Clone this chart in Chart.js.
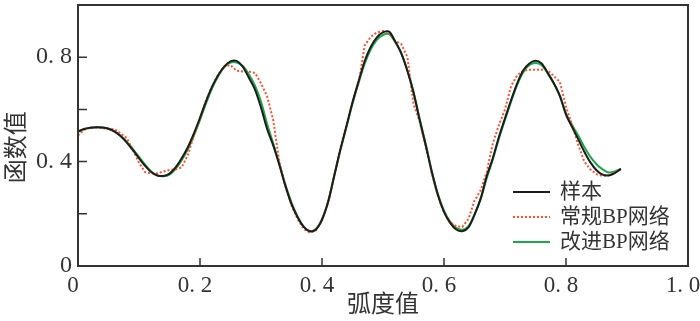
<!DOCTYPE html>
<html>
<head>
<meta charset="utf-8">
<script src="https://cdn.jsdelivr.net/npm/chart.js@4.4.0/dist/chart.umd.min.js"></script>
<style>
  html, body { margin: 0; padding: 0; background: #fff; }
</style>
</head>
<body>
<canvas id="grafico" width="700" height="321"></canvas>
<script>
// 弧度值 (x)
const xs = [0.00,0.01,0.02,0.03,0.04,0.05,0.06,0.07,0.08,0.09,
            0.10,0.11,0.12,0.13,0.14,0.15,0.16,0.17,0.18,0.19,
            0.20,0.21,0.22,0.23,0.24,0.25,0.26,0.27,0.28,0.29,
            0.30,0.31,0.32,0.33,0.34,0.35,0.36,0.37,0.38,0.39,
            0.40,0.41,0.42,0.43,0.44,0.45,0.46,0.47,0.48,0.49,
            0.50,0.51,0.52,0.53,0.54,0.55,0.56,0.57,0.58,0.59,
            0.60,0.61,0.62,0.63,0.64,0.65,0.66,0.67,0.68,0.69,
            0.70,0.71,0.72,0.73,0.74,0.75,0.76,0.77,0.78,0.79,
            0.80,0.81,0.82,0.83,0.84,0.85,0.86,0.87,0.88,0.89];

// 样本
const sample = [0.515,0.525,0.530,0.532,0.531,0.526,0.515,0.497,0.473,0.444,
                0.413,0.384,0.360,0.347,0.345,0.354,0.378,0.413,0.455,0.508,
                0.568,0.632,0.688,0.732,0.765,0.784,0.786,0.764,0.722,0.677,
                0.607,0.525,0.462,0.388,0.307,0.237,0.187,0.150,0.133,0.140,
                0.177,0.245,0.345,0.445,0.535,0.627,0.708,0.785,0.840,0.876,
                0.895,0.898,0.860,0.815,0.747,0.665,0.560,0.463,0.360,0.272,
                0.207,0.165,0.140,0.133,0.148,0.196,0.258,0.344,0.413,0.494,
                0.566,0.636,0.700,0.750,0.776,0.786,0.776,0.740,0.700,0.651,
                0.580,0.532,0.486,0.438,0.397,0.367,0.350,0.347,0.356,0.372];

// 常规BP网络
const bpPlain = [0.500,0.522,0.530,0.530,0.528,0.526,0.524,0.508,0.490,0.445,
                 0.395,0.360,0.354,0.355,0.362,0.368,0.370,0.378,0.425,0.500,
                 0.565,0.635,0.690,0.735,0.765,0.770,0.748,0.745,0.745,0.740,
                 0.700,0.650,0.560,0.400,0.305,0.232,0.180,0.142,0.128,0.136,
                 0.175,0.243,0.345,0.450,0.540,0.630,0.700,0.845,0.878,0.895,
                 0.900,0.895,0.862,0.850,0.800,0.620,0.555,0.460,0.355,0.268,
                 0.205,0.168,0.152,0.150,0.180,0.250,0.290,0.360,0.470,0.540,
                 0.600,0.690,0.730,0.748,0.752,0.752,0.752,0.750,0.728,0.705,
                 0.610,0.540,0.465,0.400,0.370,0.352,0.345,0.348,0.358,0.370];

// 改进BP网络
const bpImproved = [0.515,0.525,0.530,0.532,0.531,0.526,0.516,0.499,0.476,0.448,
                    0.418,0.388,0.362,0.347,0.344,0.350,0.372,0.405,0.447,0.500,
                    0.560,0.624,0.682,0.728,0.762,0.779,0.780,0.766,0.735,0.692,
                    0.630,0.545,0.470,0.392,0.312,0.243,0.190,0.152,0.134,0.142,
                    0.180,0.248,0.345,0.442,0.532,0.622,0.702,0.775,0.830,0.866,
                    0.885,0.888,0.858,0.815,0.750,0.668,0.565,0.468,0.364,0.276,
                    0.212,0.170,0.146,0.139,0.152,0.198,0.255,0.336,0.408,0.488,
                    0.560,0.630,0.694,0.742,0.770,0.778,0.770,0.738,0.700,0.652,
                    0.585,0.540,0.500,0.456,0.418,0.390,0.370,0.358,0.362,0.372];

const seriesNames = ["样本", "常规BP网络", "改进BP网络"];
const xTickValues = [0, 0.2, 0.4, 0.6, 0.8, 1.0];
const yTickValues = [0, 0.2, 0.4, 0.6, 0.8];
const yLabelled = [0, 0.4, 0.8];
const xTitle = "弧度值";
const yTitle = "函数值";

const INK = "#333333";
const FONT = '"Liberation Serif", "Noto Sans CJK SC", serif';

const toPoints = arr => arr.map((v, i) => ({ x: xs[i], y: v }));

function fmt(v) {
    if (Math.abs(v) < 1e-9) return "0";
    return v.toFixed(1).replace(".", ". ");
}

function noPad(s) {
    s.paddingLeft = 0; s.paddingRight = 0; s.paddingTop = 0; s.paddingBottom = 0;
}

// marco, ticks hacia dentro, títulos y leyenda
const decor = {
    id: "decor",
    afterDraw(chart) {
        const { ctx, chartArea: a, scales: { x, y } } = chart;
        ctx.save();
        ctx.strokeStyle = INK;
        ctx.lineWidth = 2;
        ctx.strokeRect(a.left, a.top, a.right - a.left, a.bottom - a.top);

        ctx.lineWidth = 1.5;
        ctx.beginPath();
        yTickValues.forEach(v => {
            if (v === 0) return;
            const p = y.getPixelForValue(v);
            ctx.moveTo(a.left, p);
            ctx.lineTo(a.left + 9, p);
        });
        xTickValues.forEach(v => {
            if (v === 0 || v === 1) return;
            const p = x.getPixelForValue(v);
            ctx.moveTo(p, a.bottom);
            ctx.lineTo(p, a.bottom - 8);
        });
        ctx.stroke();

        // títulos de ejes
        ctx.fillStyle = INK;
        ctx.font = '24px "Noto Sans CJK SC"';
        ctx.textAlign = "center";
        ctx.textBaseline = "middle";
        ctx.fillText(xTitle, (a.left + a.right) / 2, 303);
        ctx.save();
        ctx.translate(15, a.top + (a.bottom - a.top) * 0.545);
        ctx.rotate(-Math.PI / 2);
        ctx.fillText(yTitle, 0, 0);
        ctx.restore();

        // leyenda
        ctx.textAlign = "left";
        ctx.font = "21px " + FONT;
        chart.data.datasets.forEach((ds, i) => {
            const ly = 192 + i * 25;
            ctx.beginPath();
            ctx.strokeStyle = ds.borderColor;
            ctx.lineWidth = ds.borderWidth;
            ctx.setLineDash(ds.borderDash || []);
            ctx.moveTo(513, ly);
            ctx.lineTo(550, ly);
            ctx.stroke();
            ctx.setLineDash([]);
            ctx.fillStyle = INK;
            ctx.fillText(ds.label, 560, ly);
        });
        ctx.restore();
    }
};

const ctx = document.getElementById("grafico").getContext("2d");
new Chart(ctx, {
    type: "line",
    data: {
        datasets: [
            { label: seriesNames[0], data: toPoints(sample), borderColor: "#1c1c1c",
              borderWidth: 2, pointRadius: 0, tension: 0.3 },
            { label: seriesNames[1], data: toPoints(bpPlain), borderColor: "#ff4f2e",
              borderWidth: 2, borderDash: [2, 2], pointRadius: 0, tension: 0 },
            { label: seriesNames[2], data: toPoints(bpImproved), borderColor: "#1fa84a",
              borderWidth: 2, pointRadius: 0, tension: 0.3 }
        ]
    },
    options: {
        responsive: false,
        animation: false,
        layout: { padding: { top: 5, right: 12, left: 0, bottom: 0 } },
        plugins: { legend: { display: false }, tooltip: { enabled: false } },
        scales: {
            x: {
                type: "linear", min: 0, max: 1,
                afterFit: s => { s.height = 55; noPad(s); },
                afterBuildTicks: s => { s.ticks = xTickValues.map(v => ({ value: v })); },
                grid: { display: false, drawTicks: false },
                border: { display: false },
                ticks: { callback: v => fmt(v), color: INK, padding: 6, labelOffset: -5,
                         font: { family: FONT, size: 23 }, maxRotation: 0, autoSkip: false }
            },
            y: {
                min: 0, max: 1,
                afterFit: s => { s.width = 78; noPad(s); },
                afterBuildTicks: s => { s.ticks = yLabelled.map(v => ({ value: v })); },
                grid: { display: false, drawTicks: false },
                border: { display: false },
                ticks: { callback: v => fmt(v), color: INK, padding: 6,
                         font: { family: FONT, size: 24 }, autoSkip: false }
            }
        }
    },
    plugins: [decor]
});
</script>
</body>
</html>
